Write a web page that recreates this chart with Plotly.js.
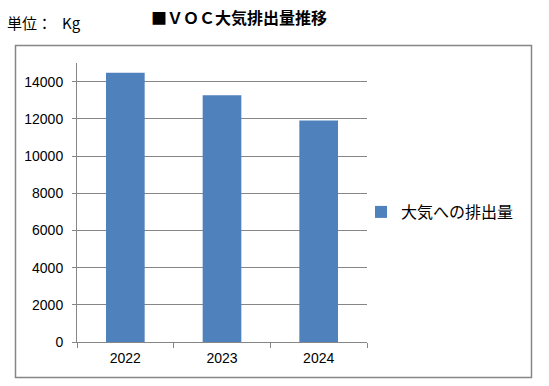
<!DOCTYPE html>
<html>
<head>
<meta charset="utf-8">
<script src="https://cdn.plot.ly/plotly-3.0.1.min.js"></script>
<style>html,body{margin:0;padding:0;background:#fff;}#chart{width:549px;height:386px;}</style>
</head>
<body>
<div id="chart"></div>
<script>
const categories = ["2022", "2023", "2024"];
const emissions = [14480, 13260, 11910];
const seriesName = "大気への排出量";
const chartTitle = "■ＶＯＣ大気排出量推移";
const unitLabel = "単位：   Kg";
const yTicks = [0, 2000, 4000, 6000, 8000, 10000, 12000, 14000];
const yTickLabels = ["0", "2000", "4000", "6000", "8000", "10000", "12000", "14000"];

const W = 549, H = 386;
const L = 77, R = 367, T = 63, B = 342;
const pw = R - L, ph = B - T;
const px = x => (x - L) / pw;
const py = y => (B - y) / ph;

const FONT = '"Noto Sans CJK JP", "Noto Sans", sans-serif';
const NUMFONT = '"Liberation Sans", "Noto Sans CJK JP", sans-serif';
const GRAY = '#868686';

const data = [{
  type: 'bar',
  x: categories,
  y: emissions,
  name: seriesName,
  marker: {color: '#4F81BD'},
  showlegend: true
}];

const layout = {
  width: W, height: H,
  margin: {l: L, r: W - R, t: T, b: H - B, pad: 0},
  paper_bgcolor: '#fff',
  plot_bgcolor: '#fff',
  font: {family: FONT, size: 13, color: '#000'},
  bargap: 0.6,
  title: {
    text: '<b>' + chartTitle + '</b>',
    font: {family: FONT, size: 16, color: '#000'},
    xref: 'container', yref: 'container',
    x: 239 / W, y: 1 - 18 / H,
    xanchor: 'center', yanchor: 'middle'
  },
  xaxis: {
    type: 'category',
    showline: true, linecolor: GRAY, linewidth: 1,
    ticks: 'outside', tickson: 'boundaries', ticklen: 5, tickcolor: GRAY,
    showgrid: false,
    ticklabelstandoff: 3,
    tickfont: {family: NUMFONT, size: 14, color: '#000'},
    fixedrange: true
  },
  yaxis: {
    range: [0, 15000],
    tickmode: 'array',
    tickvals: yTicks,
    ticktext: yTickLabels,
    showline: true, linecolor: GRAY, linewidth: 1,
    ticks: 'outside', ticklen: 4, tickcolor: GRAY,
    showgrid: true, gridcolor: GRAY, gridwidth: 1,
    zeroline: false,
    ticklabelstandoff: 6,
    tickfont: {family: NUMFONT, size: 14, color: '#000'},
    fixedrange: true
  },
  legend: {
    x: px(361), y: py(212),
    xanchor: 'left', yanchor: 'middle',
    font: {family: FONT, size: 16, color: '#000'},
    bgcolor: 'rgba(0,0,0,0)'
  },
  annotations: [{
    text: unitLabel,
    xref: 'paper', yref: 'paper',
    x: px(5), y: py(22),
    xanchor: 'left', yanchor: 'middle',
    showarrow: false,
    font: {family: FONT, size: 15, color: '#000'}
  }],
  shapes: [{
    type: 'rect', xref: 'paper', yref: 'paper',
    x0: px(15.5), x1: px(531.5), y0: py(377.5), y1: py(45.5),
    line: {color: GRAY, width: 1.5},
    fillcolor: 'rgba(0,0,0,0)',
    layer: 'below'
  }]
};

Plotly.newPlot('chart', data, layout, {displayModeBar: false, staticPlot: true});
</script>
</body>
</html>
